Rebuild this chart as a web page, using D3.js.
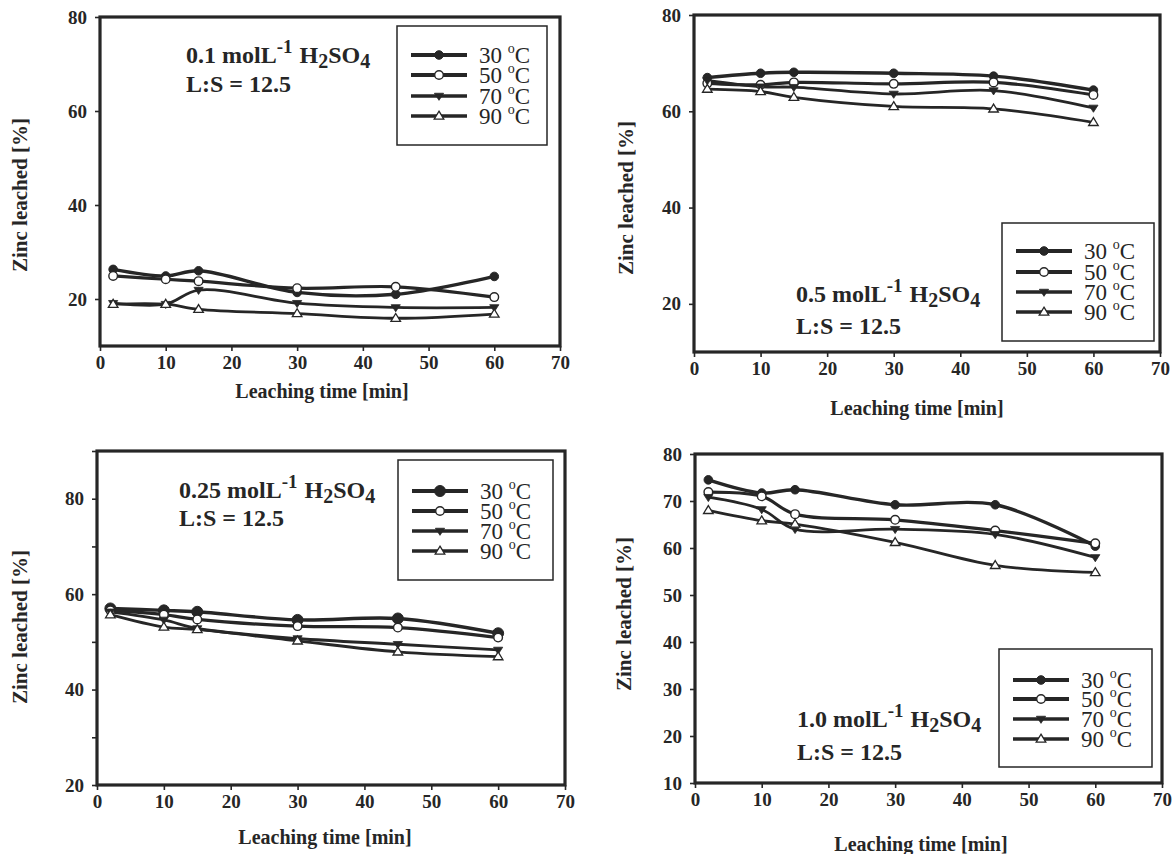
<!DOCTYPE html>
<html>
<head>
<meta charset="utf-8">
<script src="https://cdn.jsdelivr.net/npm/d3@7"></script>
<style>
  html, body { margin: 0; padding: 0; background: #ffffff; }
  svg { display: block; }
</style>
</head>
<body>
<svg id="chart" width="1173" height="854"></svg>
<script>
// ---------------- DATA ----------------
const times = [2, 10, 15, 30, 45, 60];
const tempLabels = ["30", "50", "70", "90"];
const xTickValues = [0, 10, 20, 30, 40, 50, 60, 70];

// Zinc leached [%] — 0.1 mol/L H2SO4 (rows: 30, 50, 70, 90 °C)
const zn_01_30 = [26.3, 24.9, 26.0, 21.4, 21.0, 24.8];
const zn_01_50 = [24.9, 24.2, 23.8, 22.3, 22.6, 20.4];
const zn_01_70 = [19.1, 18.9, 21.9, 19.1, 18.2, 18.2];
const zn_01_90 = [18.9, 18.9, 17.8, 16.9, 15.9, 16.8];

// 0.5 mol/L H2SO4
const zn_05_30 = [67.0, 67.9, 68.1, 67.9, 67.3, 64.4];
const zn_05_50 = [65.8, 65.5, 66.0, 65.7, 66.0, 63.4];
const zn_05_70 = [66.4, 65.1, 65.0, 63.6, 64.3, 60.7];
const zn_05_90 = [64.6, 64.1, 62.9, 61.0, 60.5, 57.7];

// 0.25 mol/L H2SO4
const zn_025_30 = [57.0, 56.6, 56.3, 54.6, 54.9, 51.8];
const zn_025_50 = [56.6, 55.7, 54.7, 53.3, 53.0, 50.9];
const zn_025_70 = [56.3, 54.6, 52.8, 50.7, 49.5, 48.3];
const zn_025_90 = [55.7, 53.1, 52.6, 50.2, 47.9, 46.9];

// 1.0 mol/L H2SO4
const zn_10_30 = [74.5, 71.7, 72.4, 69.2, 69.2, 60.4];
const zn_10_50 = [71.9, 71.0, 67.2, 66.0, 63.7, 61.0];
const zn_10_70 = [70.8, 68.2, 64.0, 64.0, 62.9, 58.0];
const zn_10_90 = [68.0, 65.8, 65.1, 61.2, 56.3, 54.8];

const concLabels = ["0.1", "0.5", "0.25", "1.0"];
const ratioLabel = "L:S = 12.5";
const xTitle = "Leaching time [min]";
const yTitle = "Zinc leached [%]";

// y-axis settings per panel
const yDomains = [[10, 80], [10, 80], [20, 90], [10, 80]];
const yTickVals = [[20, 40, 60, 80], [20, 40, 60, 80], [20, 30, 40, 50, 60, 70, 80, 90], [10, 20, 30, 40, 50, 60, 70, 80]];
const yTickLabels = [[20, 40, 60, 80], [20, 40, 60, 80], [20, 40, 60, 80], [10, 20, 30, 40, 50, 60, 70, 80]];

const panelSeries = [
  [zn_01_30, zn_01_50, zn_01_70, zn_01_90],
  [zn_05_30, zn_05_50, zn_05_70, zn_05_90],
  [zn_025_30, zn_025_50, zn_025_70, zn_025_90],
  [zn_10_30, zn_10_50, zn_10_70, zn_10_90]
];

// ---------------- LAYOUT ----------------
const layouts = [
  { left: 100, right: 560, top: 17, bottom: 346, ytx: 20, yty: 195, xtx: 322, xty: 398,
    ann: { x: 186, y1: 63, y2: 92 }, leg: { x: 397, y: 26, w: 150, h: 119, rows: [55, 75, 96, 116] } },
  { left: 694, right: 1160, top: 15, bottom: 352, ytx: 626, yty: 198, xtx: 917, xty: 415,
    ann: { x: 796, y1: 302, y2: 334 }, leg: { x: 1002, y: 223, w: 152, h: 118, rows: [251, 272, 292, 312] } },
  { left: 97, right: 565, top: 451, bottom: 785, ytx: 20, yty: 627, xtx: 325, xty: 844,
    ann: { x: 179, y1: 498, y2: 526 }, leg: { x: 398, y: 460, w: 155, h: 120, rows: [491, 511, 531, 551] } },
  { left: 695, right: 1162, top: 454, bottom: 783, ytx: 624, yty: 614, xtx: 921, xty: 851,
    ann: { x: 797, y1: 727, y2: 760 }, leg: { x: 999, y: 649, w: 153, h: 118, rows: [680, 699, 719, 739] } }
];

const INK = "#262626";
const SERIF = "'Liberation Serif', 'Times New Roman', serif";
const svg = d3.select("#chart");

function marker(g, type, cx, cy, big) {
  const r = big ? 5.5 : 4.3;
  if (type === 0) {
    g.append("circle").attr("cx", cx).attr("cy", cy).attr("r", r).attr("fill", INK).attr("stroke", INK).attr("stroke-width", 1);
  } else if (type === 1) {
    g.append("circle").attr("cx", cx).attr("cy", cy).attr("r", r).attr("fill", "#fff").attr("stroke", INK).attr("stroke-width", 1.4);
  } else if (type === 2) {
    const s = 4.6;
    g.append("path").attr("d", `M${cx - s},${cy - s * 0.6} L${cx + s},${cy - s * 0.6} L${cx},${cy + s * 0.95} Z`)
      .attr("fill", INK).attr("stroke", INK).attr("stroke-width", 0.8);
  } else {
    const s = 4.8;
    g.append("path").attr("d", `M${cx},${cy - s} L${cx + s},${cy + s * 0.65} L${cx - s},${cy + s * 0.65} Z`)
      .attr("fill", "#fff").attr("stroke", INK).attr("stroke-width", 1.3);
  }
}

const lineWidths = [3.4, 3.2, 2.8, 2.8];

layouts.forEach((L, p) => {
  const x = d3.scaleLinear().domain([0, 70]).range([L.left, L.right]);
  const y = d3.scaleLinear().domain(yDomains[p]).range([L.bottom, L.top]);
  const g = svg.append("g");

  // x axis
  const xa = g.append("g").attr("transform", `translate(0,${L.bottom})`)
    .call(d3.axisBottom(x).tickValues(xTickValues).tickSize(5).tickPadding(5).tickFormat(d3.format("d")));
  // y axis
  const labs = yTickLabels[p];
  const ya = g.append("g").attr("transform", `translate(${L.left},0)`)
    .call(d3.axisLeft(y).tickValues(yTickVals[p]).tickSize(5).tickPadding(8).tickFormat(d => labs.includes(d) ? d : ""));
  [xa, ya].forEach(a => {
    a.select(".domain").remove();
    a.selectAll("line").attr("stroke", INK).attr("stroke-width", 1.6);
    a.selectAll("text").attr("fill", INK).style("font-family", SERIF).style("font-weight", "bold").style("font-size", "19px");
  });

  // frame
  g.append("rect").attr("x", L.left).attr("y", L.top).attr("width", L.right - L.left).attr("height", L.bottom - L.top)
    .attr("fill", "none").attr("stroke", INK).attr("stroke-width", 3.2);

  // series lines
  const line = d3.line().x((d, i) => x(times[i])).y(d => y(d)).curve(d3.curveCatmullRom.alpha(0.5));
  panelSeries[p].forEach((vals, s) => {
    g.append("path").datum(vals).attr("d", line).attr("fill", "none")
      .attr("stroke", INK).attr("stroke-width", lineWidths[s]).attr("stroke-linejoin", "round");
  });
  panelSeries[p].forEach((vals, s) => {
    vals.forEach((v, i) => marker(g, s, x(times[i]), y(v), p === 2 && s === 0));
  });

  // axis titles
  g.append("text").attr("x", L.xtx).attr("y", L.xty).attr("text-anchor", "middle")
    .style("font-family", SERIF).style("font-weight", "bold").style("font-size", "20px").attr("fill", INK).text(xTitle);
  g.append("text").attr("transform", `translate(${L.ytx},${L.yty}) rotate(-90)`).attr("text-anchor", "middle")
    .attr("dy", "0.35em")
    .style("font-family", SERIF).style("font-weight", "bold").style("font-size", "21px").attr("fill", INK).text(yTitle);

  // annotation
  const a1 = g.append("text").attr("x", L.ann.x).attr("y", L.ann.y1)
    .style("font-family", SERIF).style("font-weight", "bold").style("font-size", "24px").attr("fill", INK);
  a1.append("tspan").text(concLabels[p] + " molL");
  a1.append("tspan").attr("dy", -10).style("font-size", "19px").text("-1");
  a1.append("tspan").attr("dy", 10).attr("dx", 7).text("H");
  a1.append("tspan").attr("dy", 5).style("font-size", "20px").text("2");
  a1.append("tspan").attr("dy", -5).text("SO");
  a1.append("tspan").attr("dy", 5).style("font-size", "20px").text("4");
  g.append("text").attr("x", L.ann.x).attr("y", L.ann.y2)
    .style("font-family", SERIF).style("font-weight", "bold").style("font-size", "24px").attr("fill", INK).text(ratioLabel);

  // legend
  g.append("rect").attr("x", L.leg.x).attr("y", L.leg.y).attr("width", L.leg.w).attr("height", L.leg.h)
    .attr("fill", "#fff").attr("stroke", INK).attr("stroke-width", 1.5);
  const lx0 = L.leg.x + 14, lx1 = L.leg.x + 70;
  tempLabels.forEach((t, s) => {
    const ry = L.leg.rows[s];
    g.append("line").attr("x1", lx0).attr("x2", lx1).attr("y1", ry).attr("y2", ry)
      .attr("stroke", INK).attr("stroke-width", lineWidths[s] + 0.6);
    marker(g, s, (lx0 + lx1) / 2, ry, p === 2 && s === 0);
    const tx = g.append("text").attr("x", L.leg.x + 82).attr("y", ry + 8)
      .style("font-family", SERIF).style("font-size", "23px").attr("fill", INK);
    tx.append("tspan").text(t + " ");
    tx.append("tspan").attr("dy", -10).style("font-size", "14px").text("o");
    tx.append("tspan").attr("dy", 10).text("C");
  });
});
</script>
</body>
</html>
